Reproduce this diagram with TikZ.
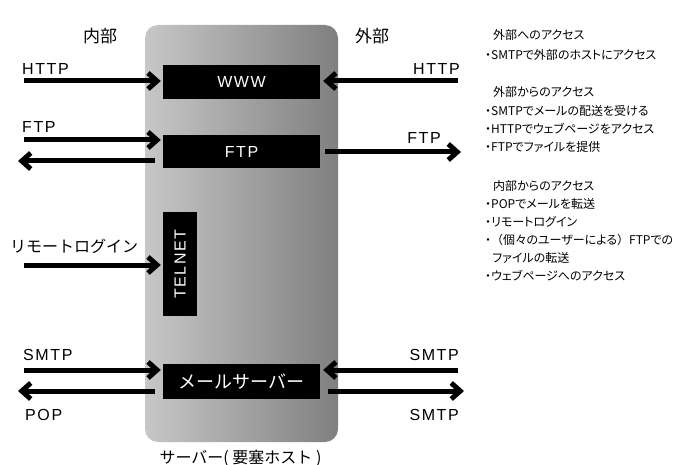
\documentclass[tikz,border=0pt]{standalone}
\usepackage{fontspec}
\usepackage{graphicx}
\usetikzlibrary{arrows.meta,calc}
\setmainfont{Noto Sans CJK JP}
\newfontfamily\lat[LetterSpace=10]{Liberation Sans}
\newfontfamily\jpp[RawFeature=+palt]{Noto Sans CJK JP}
\newfontfamily\jpf{Noto Sans CJK JP}
\newcommand\myfs[1]{\fontsize{#1}{#1}\selectfont}
\tikzset{
  fat/.style={line width=5pt, -{Straight Barb[length=9pt,width=16pt]}},
  blackbox/.style={fill=black, text=white, inner sep=0pt},
  lbl/.style={inner sep=0pt, font=\lat\myfs{16}},
  jlbl/.style={inner sep=0pt, font=\myfs{16}},
  note/.style={inner sep=0pt, anchor=west, font=\jpp\myfs{12}},
}
\begin{document}
\begin{tikzpicture}[x=1pt,y=-1pt]
\useasboundingbox (0,0) rectangle (693,465);
% server body
\node[rounded corners=13pt, left color=black!22, right color=black!50, minimum width=193pt, minimum height=417pt, inner sep=0pt] (srv) at (241.5,233.5) {};
% boxes
\node[blackbox, minimum width=157pt, minimum height=34pt] (www) at (241.5,82) {\lat\myfs{16}WWW};
\node[blackbox, minimum width=157pt, minimum height=33pt] (ftp) at (241.5,151.5) {\lat\myfs{16}FTP};
\node[blackbox, minimum width=34pt, minimum height=104pt] (tel) at (180,264) {\rotatebox{90}{\lat\myfs{16}TELNET}};
\node[blackbox, minimum width=157pt, minimum height=35pt] (mail) at (241.5,381.5) {\myfs{18}メールサーバー};
% titles
\node[jlbl, font=\myfs{17}] (in) at (100,36) {内部};
\node[jlbl, font=\myfs{17}] (out) at (372,36) {外部};
\node[jlbl] (cap) at (240.5,458) {サーバー( 要塞ホスト )};
% HTTP
\node[lbl, anchor=base west] (lh) at (22,75) {HTTP};
\coordinate (a1) at (24,81);
\draw[fat, shorten >=2pt] (a1) -- (a1 -| www.west);
\node[lbl, anchor=base east] (rh) at (460,75) {HTTP};
\coordinate (a2) at (458,81);
\draw[fat, shorten >=3pt] (a2) -- (a2 -| www.east);
% FTP
\node[lbl, anchor=base west] (lf) at (22,133) {FTP};
\coordinate (a3) at (24,140);
\draw[fat, shorten >=2pt] (a3) -- (a3 -| ftp.west);
\coordinate (a4) at (18,161);
\draw[fat] ([xshift=-8pt]a4 -| ftp.west) -- (a4);
\node[lbl, anchor=base east] (rf) at (441,144) {FTP};
\coordinate (a5) at (461,152);
\draw[fat] ([xshift=5pt]a5 -| ftp.east) -- (a5);
% TELNET
\node[jlbl, anchor=west] (lt) at (10,246) {リモートログイン};
\coordinate (a6) at (24,265);
\draw[fat, shorten >=2pt] (a6) -- (a6 -| tel.west);
% SMTP / POP
\node[lbl, anchor=base west] (ls) at (23,360) {SMTP};
\coordinate (a7) at (24,370);
\draw[fat, shorten >=2pt] (a7) -- (a7 -| mail.west);
\coordinate (a8) at (18,391);
\draw[fat] ([xshift=-8pt]a8 -| mail.west) -- (a8);
\node[lbl, anchor=base west] (lp) at (25,420) {POP};
\node[lbl, anchor=base east] (rs1) at (459,360) {SMTP};
\coordinate (a9) at (458,370);
\draw[fat, shorten >=3pt] (a9) -- (a9 -| mail.east);
\coordinate (a10) at (464,391);
\draw[fat] ([xshift=8pt]a10 -| mail.east) -- (a10);
\node[lbl, anchor=base east] (rs2) at (459,420) {SMTP};
% notes
\node[note] (n1) at (493,35) {外部へのアクセス};
\node[note] (n2) at (485,55) {・SMTPで外部のホストにアクセス};
\node[note] (n3) at (493,92) {外部からのアクセス};
\node[note] (n4) at (485,111) {・SMTPでメールの配送を受ける};
\node[note] (n5) at (485,129) {・HTTPでウェブページをアクセス};
\node[note] (n6) at (485,147) {・FTPでファイルを提供};
\node[note] (n7) at (493,186) {内部からのアクセス};
\node[note] (n8) at (485,204) {・POPでメールを転送};
\node[note] (n9) at (485,222) {・リモートログイン};
\node[note] (n10) at (485,240) {・{\jpf （}個々のユーザーによる{\jpf ）}FTPでの};
\node[note] (n11) at (492,258) {ファイルの転送};
\node[note] (n12) at (485,276) {・ウェブページへのアクセス};
\end{tikzpicture}
\end{document}
